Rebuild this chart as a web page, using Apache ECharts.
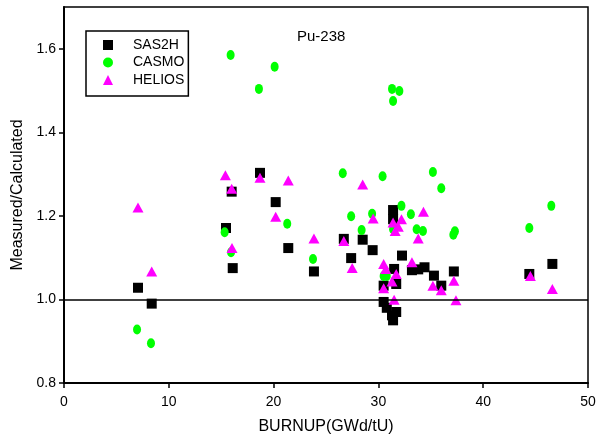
<!DOCTYPE html>
<html>
<head>
<meta charset="utf-8">
<title>Pu-238</title>
<script src="https://cdn.jsdelivr.net/npm/echarts@6/dist/echarts.min.js"></script>
<style>
  html, body { margin: 0; padding: 0; background: #fff; }
  #chart { width: 603px; height: 443px; }
</style>
</head>
<body>
<div id="chart"></div>
<script>
// Burnup (GWd/tU) vs Measured/Calculated ratio for Pu-238
const seriesNames = ['SAS2H', 'CASMO', 'HELIOS'];

const sas2h = [
  [7.06, 1.028], [8.37, 0.990], [15.46, 1.171], [16.0, 1.258], [16.1, 1.075],
  [18.7, 1.303], [20.2, 1.233], [21.4, 1.123], [23.85, 1.067], [26.7, 1.145],
  [27.4, 1.099], [28.5, 1.143], [29.45, 1.118], [30.5, 1.033], [30.5, 0.994],
  [30.8, 0.980], [31.3, 0.962], [31.4, 0.950], [31.7, 0.970], [31.7, 1.037],
  [31.5, 1.073], [31.4, 1.214], [31.4, 1.192], [32.25, 1.105], [33.2, 1.070],
  [33.8, 1.072], [34.4, 1.077], [35.3, 1.057], [36.0, 1.033], [37.2, 1.067],
  [44.4, 1.061], [46.6, 1.085]
];

const casmo = [
  [6.97, 0.928], [8.3, 0.895], [15.33, 1.161], [15.94, 1.113], [15.9, 1.585],
  [18.6, 1.504], [20.1, 1.557], [21.3, 1.181], [23.76, 1.097], [26.6, 1.302],
  [27.4, 1.199], [28.4, 1.166], [29.4, 1.205], [30.4, 1.295], [30.5, 1.056],
  [30.8, 1.056], [31.3, 1.504], [32.0, 1.499], [31.4, 1.475], [31.4, 1.168],
  [32.2, 1.224], [33.1, 1.204], [33.65, 1.168], [34.25, 1.164], [35.2, 1.305],
  [36.0, 1.266], [37.15, 1.155], [37.3, 1.163], [44.4, 1.171], [46.5, 1.224]
];

const helios = [
  [7.06, 1.220], [8.37, 1.067], [15.4, 1.297], [16.0, 1.265], [16.03, 1.123],
  [18.7, 1.291], [20.2, 1.198], [21.4, 1.285], [23.85, 1.146], [26.7, 1.140],
  [27.5, 1.075], [28.5, 1.275], [29.5, 1.194], [30.5, 1.085], [30.7, 1.073],
  [30.5, 1.027], [31.3, 1.043], [31.7, 1.061], [31.5, 0.999], [31.4, 1.184],
  [32.2, 1.192], [31.9, 1.174], [31.6, 1.164], [33.2, 1.089], [33.8, 1.146],
  [34.3, 1.210], [35.2, 1.033], [36.0, 1.022], [37.2, 1.045], [37.4, 0.998],
  [44.5, 1.056], [46.6, 1.025]
];

const xTicks = [0, 10, 20, 30, 40, 50];
const yTicks = [0.8, 1.0, 1.2, 1.4, 1.6];
const referenceRatio = 1.0;

const font = 'Liberation Sans, Arial, sans-serif';

const chart = echarts.init(document.getElementById('chart'), null, { renderer: 'canvas' });

chart.setOption({
  animation: false,
  backgroundColor: '#fff',
  title: {
    text: 'Pu-238',
    left: 292,
    top: 24,
    textStyle: { fontFamily: font, fontSize: 15, fontWeight: 'normal', color: '#000' }
  },
  legend: {
    data: seriesNames,
    orient: 'vertical',
    left: 86,
    top: 31,
    itemWidth: 10,
    itemHeight: 10,
    itemGap: 3.5,
    padding: [7, 4, 9, 17],
    borderColor: '#000',
    borderWidth: 1.5,
    textStyle: { fontFamily: font, fontSize: 14, color: '#000', padding: [0, 0, 0, 15] }
  },
  grid: {
    left: 64,
    right: 15,
    top: 7,
    bottom: 60,
    show: true,
    borderColor: '#000',
    borderWidth: 1.5,
    containLabel: false
  },
  xAxis: {
    type: 'value',
    min: xTicks[0],
    max: xTicks[xTicks.length - 1],
    interval: 10,
    name: 'BURNUP(GWd/tU)',
    nameLocation: 'middle',
    nameGap: 36,
    nameTextStyle: { fontFamily: font, fontSize: 16, color: '#000' },
    axisLine: { show: true, onZero: false, lineStyle: { color: '#000', width: 2 } },
    axisTick: { show: true, inside: false, length: 5, lineStyle: { color: '#000', width: 1.5 } },
    axisLabel: { fontFamily: font, fontSize: 14, color: '#000', margin: 12 },
    splitLine: { show: false }
  },
  yAxis: {
    type: 'value',
    min: 0.8,
    max: 1.7,
    interval: 0.2,
    name: 'Measured/Calculated',
    nameLocation: 'middle',
    nameGap: 33,
    nameTextStyle: { fontFamily: font, fontSize: 16, color: '#000' },
    axisLine: { show: true, onZero: false, lineStyle: { color: '#000', width: 2 } },
    axisTick: { show: true, inside: false, length: 5, customValues: yTicks, lineStyle: { color: '#000', width: 1.5 } },
    axisLabel: {
      fontFamily: font, fontSize: 14, color: '#000', margin: 8,
      customValues: yTicks,
      formatter: v => v.toFixed(1)
    },
    splitLine: { show: false }
  },
  series: [
    {
      name: 'ref',
      type: 'scatter',
      data: [],
      z: 1,
      silent: true,
      markLine: {
        silent: true,
        symbol: 'none',
        label: { show: false },
        lineStyle: { color: '#000', width: 1.5, type: 'solid' },
        data: [{ yAxis: referenceRatio }]
      }
    },
    {
      name: seriesNames[0],
      type: 'scatter',
      data: sas2h,
      symbol: 'rect',
      symbolSize: 10,
      z: 2,
      itemStyle: { color: '#000', opacity: 1 }
    },
    {
      name: seriesNames[1],
      type: 'scatter',
      data: casmo,
      symbol: 'circle',
      symbolSize: [8, 10],
      z: 3,
      itemStyle: { color: '#00ff00', opacity: 1 }
    },
    {
      name: seriesNames[2],
      type: 'scatter',
      data: helios,
      symbol: 'triangle',
      symbolSize: [11, 10],
      z: 4,
      itemStyle: { color: '#ff00ff', opacity: 1 }
    }
  ]
});
</script>
</body>
</html>
